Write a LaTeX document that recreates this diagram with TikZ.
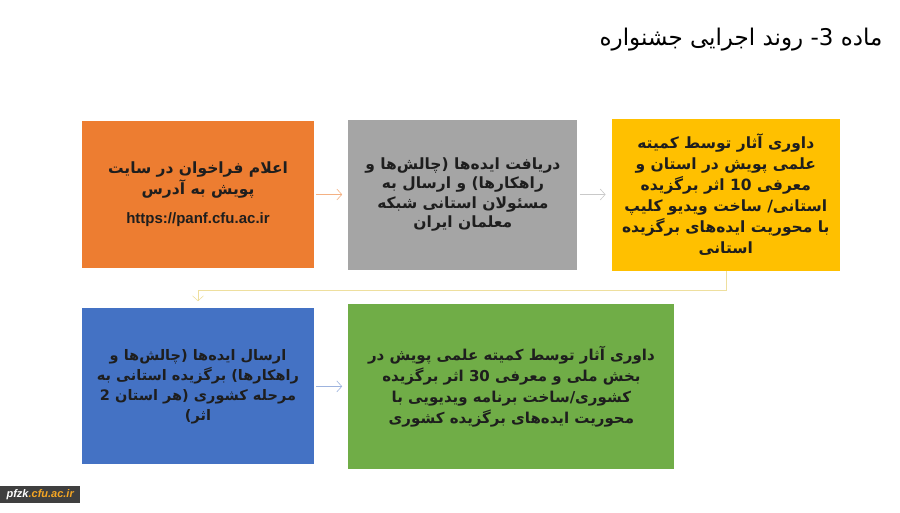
\documentclass[tikz,border=0pt]{standalone}
\usepackage{fontspec}
\setmainfont{Liberation Sans}
\newfontfamily\farsi[Script=Arabic]{DejaVu Sans}
\TeXXeTstate=1
\usetikzlibrary{calc}
\usetikzlibrary{positioning}
\usetikzlibrary{arrows.meta}

\definecolor{stageorange}{HTML}{ED7D31}
\definecolor{stagegray}{HTML}{A5A5A5}
\definecolor{stageyellow}{HTML}{FFC000}
\definecolor{stageblue}{HTML}{4472C4}
\definecolor{stagegreen}{HTML}{70AD47}
\definecolor{stagetext}{HTML}{1E1E1E}
\definecolor{arroworange}{HTML}{F4B183}
\definecolor{arrowgray}{HTML}{C9C9C9}
\definecolor{arrowyellow}{HTML}{EEDF9E}
\definecolor{arrowblue}{HTML}{9DB3DE}
\definecolor{markgray}{HTML}{3F3F3F}
\definecolor{markorange}{HTML}{F5A623}

\newcommand{\rline}[1]{\beginR #1\endR}

\begin{document}
\begin{tikzpicture}[x=1pt, y=1pt,
    font=\fontsize{15}{20}\selectfont\farsi\bfseries,
    node distance=40pt and 34pt,
    >={Straight Barb[length=5pt,width=11pt]},
    stage/.style={shape=rectangle, align=center, text=stagetext, inner sep=0pt},
    link/.style={->, line width=0.6pt, shorten <=2pt, shorten >=6pt}]

    \path[use as bounding box] (0,0) rectangle (900,-512);

    \node[name=title,
      anchor=east,
      font=\fontsize{23}{26}\selectfont\farsi] at (886,-40)
      {\rline{ماده 3- روند اجرایی جشنواره}};

    \node[name=announce,
      stage,
      fill=stageorange,
      minimum width=232pt,
      minimum height=147pt,
      font=\fontsize{15.5}{21}\selectfont\farsi\bfseries] at (198,-194.5)
      {\rline{اعلام فراخوان در سایت}\\
       \rline{پویش به آدرس}\\[8pt]
       {\rmfamily\fontsize{15}{18}\selectfont https://panf.cfu.ac.ir}};

    \node[name=receive,
      stage,
      fill=stagegray,
      minimum width=229pt,
      minimum height=150pt,
      font=\fontsize{15.5}{19.5}\selectfont\farsi\bfseries,
      right=of announce]
      {\rline{دریافت ایده‌ها (چالش‌ها و}\\
       \rline{راهکارها) و ارسال به}\\
       \rline{مسئولان استانی شبکه}\\
       \rline{معلمان ایران}};

    \node[name=judge,
      stage,
      fill=stageyellow,
      minimum width=228pt,
      minimum height=152pt,
      font=\fontsize{15.5}{21}\selectfont\farsi\bfseries,
      right=of receive]
      {\rline{داوری آثار توسط کمیته}\\
       \rline{علمی پویش در استان و}\\
       \rline{معرفی 10 اثر برگزیده}\\
       \rline{استانی/ ساخت ویدیو  کلیپ}\\
       \rline{با محوریت ایده‌های برگزیده}\\
       \rline{استانی}};

    \node[name=send,
      stage,
      fill=stageblue,
      minimum width=232pt,
      minimum height=156pt,
      font=\fontsize{14.5}{20}\selectfont\farsi\bfseries,
      below=of announce]
      {\rline{ارسال ایده‌ها (چالش‌ها و}\\
       \rline{راهکارها) برگزیده استانی به}\\
       \rline{مرحله کشوری (هر استان 2}\\
       \rline{اثر)}};

    \node[name=national,
      stage,
      fill=stagegreen,
      minimum width=326pt,
      minimum height=165pt,
      font=\fontsize{15}{21}\selectfont\farsi\bfseries,
      right=of send]
      {\rline{داوری آثار توسط کمیته علمی پویش در}\\
       \rline{بخش ملی و معرفی 30 اثر برگزیده}\\
       \rline{کشوری/ساخت برنامه ویدیویی با}\\
       \rline{محوریت ایده‌های برگزیده کشوری}};

    \node[name=site,
      anchor=south west,
      fill=markgray,
      minimum width=80pt,
      minimum height=17pt,
      inner sep=0pt,
      font=\fontsize{11}{12}\selectfont\rmfamily\bfseries\itshape] at (0,-503)
      {\textcolor{white}{pfzk}\textcolor{markorange}{.cfu.ac.ir}};

    \coordinate (turn) at ($(judge.south)+(0,-20)$);

    \path (announce) edge[link, draw=arroworange] (receive);
    \path (receive) edge[link, draw=arrowgray] (judge);
    \draw[link, draw=arrowyellow, shorten <=0pt, shorten >=7pt]
      (judge.south) -- (turn) -| (send.north);
    \path (send) edge[link, draw=arrowblue] (national);

  \end{tikzpicture}
\end{document}
